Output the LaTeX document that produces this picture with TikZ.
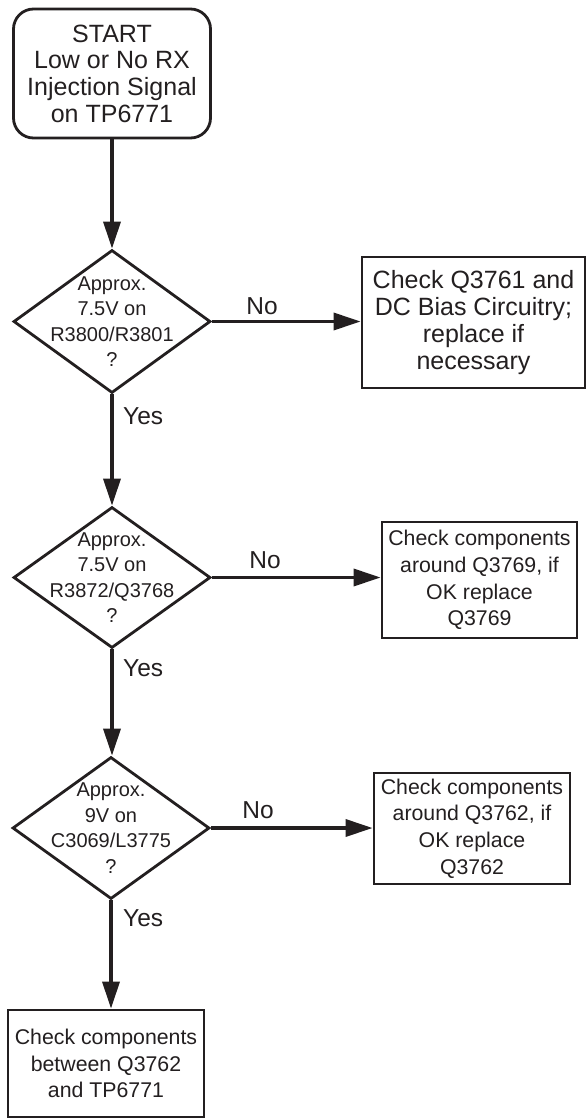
\documentclass[tikz,border=0pt]{standalone}
\usepackage{fontspec}
\setmainfont{Liberation Sans}
\usetikzlibrary{shapes.geometric,arrows.meta}
\definecolor{ink}{RGB}{35,31,32}
\begin{document}
\begin{tikzpicture}[x=1pt,y=-1pt, color=ink,
  boxshape/.style={draw, line width=2.8pt, rectangle, inner sep=0pt, align=center, font=\fontsize{21.3}{26.7}\selectfont},
  startshape/.style={boxshape, rounded corners=20pt, font=\fontsize{25}{26.7}\selectfont},
  decshape/.style={draw, diamond, line width=2.8pt, inner sep=0pt},
  dectext/.style={align=center, inner sep=0pt, font=\fontsize{20}{25.5}\selectfont},
  conn/.style={line width=3.5pt, -{Triangle[length=27pt,width=17pt]}},
  lbl/.style={inner sep=0pt, font=\fontsize{24.5}{28}\selectfont}
]
\useasboundingbox (0,0) rectangle (587,1119);

\node[startshape, minimum width=197pt, minimum height=129pt] (start) at (112,73.5) {START\\Low or No RX\\Injection Signal\\on TP6771};

\node[decshape, minimum width=197pt, minimum height=143pt] (d1) at (112,321.5) {};
\node[dectext] (d1t) at (d1.center) {Approx.\\7.5V on\\R3800/R3801\\?};
\node[boxshape, font=\fontsize{25}{26.7}\selectfont, minimum width=223pt, minimum height=131pt] (b1) at (473.5,322.5) {Check Q3761 and\\DC Bias Circuitry;\\replace if\\necessary};

\node[decshape, minimum width=197pt, minimum height=141pt] (d2) at (112,577.5) {};
\node[dectext] (d2t) at (d2.center) {Approx.\\7.5V on\\R3872/Q3768\\?};
\node[boxshape, minimum width=195pt, minimum height=116pt] (b2) at (479.5,580) {Check components\\around Q3769, if\\OK replace\\Q3769};

\node[decshape, minimum width=197pt, minimum height=142pt] (d3) at (111,828) {};
\node[dectext] (d3t) at (d3.center) {Approx.\\9V on\\C3069/L3775\\?};
\node[boxshape, minimum width=196pt, minimum height=111pt] (b3) at (472,828.5) {Check components\\around Q3762, if\\OK replace\\Q3762};

\node[boxshape, minimum width=196pt, minimum height=107pt] (b4) at (106,1063.5) {Check components\\between Q3762\\and TP6771};

\draw[conn] (start.south) -- (d1.north);
\draw[conn] (d1.east) -- (d1.east -| b1.west);
\draw[conn] (d1.south) -- (d2.north);
\draw[conn] (d2.east) -- (d2.east -| b2.west);
\draw[conn] (d2.south) -- (d2.south |- d3.north);
\draw[conn] (d3.east) -- (d3.east -| b3.west);
\draw[conn] (d3.south) -- (d3.south |- b4.north);

\node[lbl] (no1) at (262,306) {No};
\node[lbl] (no2) at (265,560) {No};
\node[lbl] (no3) at (258,810) {No};
\node[lbl, anchor=west] (yes1) at (123,416) {Yes};
\node[lbl, anchor=west] (yes2) at (123,668) {Yes};
\node[lbl, anchor=west] (yes3) at (123,918) {Yes};
\end{tikzpicture}
\end{document}
